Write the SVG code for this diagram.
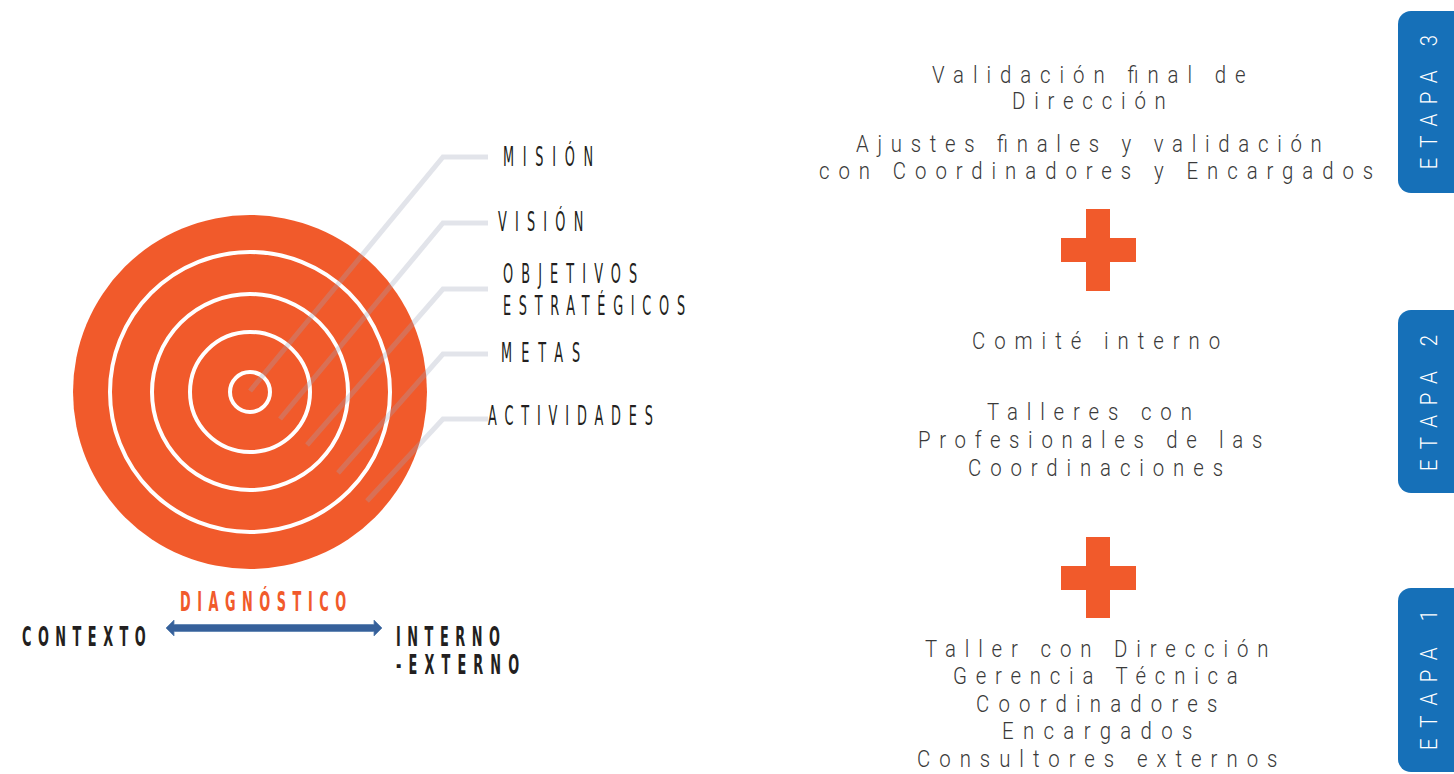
<svg xmlns="http://www.w3.org/2000/svg" width="1454" height="774" viewBox="0 0 1454 774">
<defs>
<style>
.lbl{font-family:'Liberation Sans Narrow','DejaVu Sans Condensed','Liberation Sans',sans-serif;font-stretch:condensed;font-size:26px;fill:#231f20;}
.bold{font-weight:bold;}
.diag{fill:#f15a2b;}
.txt{font-family:Roboto,'Liberation Sans',sans-serif;font-weight:300;font-size:24px;fill:#3a3a3a;}
.tab{fill:#1670b8;}
.tabt{font-family:Roboto,'Liberation Sans',sans-serif;font-weight:300;font-size:24px;fill:#ffffff;text-anchor:middle;}
.ring{fill:none;stroke:#ffffff;stroke-width:4;}
.lead{fill:none;stroke:#a0a5b8;stroke-opacity:0.3;stroke-width:5;}
.plus{fill:#f15a2b;}
</style>
</defs>
<rect width="1454" height="774" fill="#ffffff"/>

<g id="target">
<circle cx="250" cy="392" r="177" fill="#f15a2b"/>
<circle class="ring" cx="250" cy="392" r="140"/>
<circle class="ring" cx="250" cy="392" r="98"/>
<circle class="ring" cx="250" cy="392" r="60"/>
<circle class="ring" cx="250" cy="392" r="20"/>
</g>

<g id="connectors">
<polyline class="lead" points="250,391 443,157 488,157"/>
<polyline class="lead" points="280,419 443,223 488,223"/>
<polyline class="lead" points="307,445 443,289 488,289"/>
<polyline class="lead" points="338,473 443,354 488,354"/>
<polyline class="lead" points="367,501 443,419 488,419"/>
<path id="diag-arrow" d="M166,628 L174,620 L174,624.5 L374,624.5 L374,620 L382,628 L374,636 L374,631.5 L174,631.5 L174,636 Z" fill="#36609a" stroke="#5a80b0" stroke-width="0.8"/>
</g>

<g id="mision"><text class="lbl" transform="translate(503,166) scale(0.55,1)" textLength="164" lengthAdjust="spacing">MISIÓN</text></g>
<g id="vision"><text class="lbl" transform="translate(498,231) scale(0.55,1)" textLength="155" lengthAdjust="spacing">VISIÓN</text></g>
<g id="objetivos">
<text class="lbl" transform="translate(503,283) scale(0.55,1)" textLength="244" lengthAdjust="spacing">OBJETIVOS</text>
<text class="lbl" transform="translate(503,315) scale(0.55,1)" textLength="331" lengthAdjust="spacing">ESTRATÉGICOS</text>
</g>
<g id="metas"><text class="lbl" transform="translate(501,362) scale(0.55,1)" textLength="144" lengthAdjust="spacing">METAS</text></g>
<g id="actividades"><text class="lbl" transform="translate(488,425) scale(0.55,1)" textLength="300" lengthAdjust="spacing">ACTIVIDADES</text></g>

<g id="diagnostico">
<text class="lbl bold diag" transform="translate(180,611) scale(0.55,1)" textLength="302" lengthAdjust="spacing">DIAGNÓSTICO</text>
<text class="lbl bold" transform="translate(22,646) scale(0.55,1)" textLength="225" lengthAdjust="spacing">CONTEXTO</text>
<text class="lbl bold" transform="translate(396,646) scale(0.55,1)" textLength="189" lengthAdjust="spacing">INTERNO</text>
<text class="lbl bold" transform="translate(396,674) scale(0.55,1)" textLength="224" lengthAdjust="spacing">-EXTERNO</text>
</g>

<g id="etapa3-text">
<text class="txt" transform="translate(932,83) scale(0.85,1)" textLength="369" lengthAdjust="spacing">Validación final de</text>
<text class="txt" transform="translate(1012,109) scale(0.85,1)" textLength="181" lengthAdjust="spacing">Dirección</text>
<text class="txt" transform="translate(856,152) scale(0.85,1)" textLength="548" lengthAdjust="spacing">Ajustes finales y validación</text>
<text class="txt" transform="translate(819,179) scale(0.85,1)" textLength="652" lengthAdjust="spacing">con Coordinadores y Encargados</text>
</g>

<g id="plus1">
<rect class="plus" x="1086" y="209" width="24" height="82"/>
<rect class="plus" x="1061" y="238" width="75" height="24"/>
</g>

<g id="etapa2-text">
<text class="txt" transform="translate(972,349) scale(0.85,1)" textLength="292" lengthAdjust="spacing">Comité interno</text>
<text class="txt" transform="translate(987,420) scale(0.85,1)" textLength="241" lengthAdjust="spacing">Talleres con</text>
<text class="txt" transform="translate(918,448) scale(0.85,1)" textLength="405" lengthAdjust="spacing">Profesionales de las</text>
<text class="txt" transform="translate(968,476) scale(0.85,1)" textLength="300" lengthAdjust="spacing">Coordinaciones</text>
</g>

<g id="plus2">
<rect class="plus" x="1086" y="537" width="24" height="81"/>
<rect class="plus" x="1061" y="566" width="75" height="24"/>
</g>

<g id="etapa1-text">
<text class="txt" transform="translate(925,657) scale(0.85,1)" textLength="404" lengthAdjust="spacing">Taller con Dirección</text>
<text class="txt" transform="translate(953,684) scale(0.85,1)" textLength="335" lengthAdjust="spacing">Gerencia Técnica</text>
<text class="txt" transform="translate(976,712) scale(0.85,1)" textLength="284" lengthAdjust="spacing">Coordinadores</text>
<text class="txt" transform="translate(1002,739) scale(0.85,1)" textLength="224" lengthAdjust="spacing">Encargados</text>
<text class="txt" transform="translate(917,767) scale(0.85,1)" textLength="424" lengthAdjust="spacing">Consultores externos</text>
</g>

<g id="etapa3">
<rect class="tab" x="1398" y="11" width="80" height="182" rx="13"/>
<text class="tabt" transform="translate(1437,102) rotate(-90) scale(0.85,1)" textLength="158" lengthAdjust="spacing">ETAPA 3</text>
</g>
<g id="etapa2">
<rect class="tab" x="1398" y="310" width="80" height="183" rx="13"/>
<text class="tabt" transform="translate(1437,403) rotate(-90) scale(0.85,1)" textLength="160" lengthAdjust="spacing">ETAPA 2</text>
</g>
<g id="etapa1">
<rect class="tab" x="1398" y="588" width="80" height="184" rx="13"/>
<text class="tabt" transform="translate(1437,680) rotate(-90) scale(0.85,1)" textLength="165" lengthAdjust="spacing">ETAPA 1</text>
</g>
</svg>
